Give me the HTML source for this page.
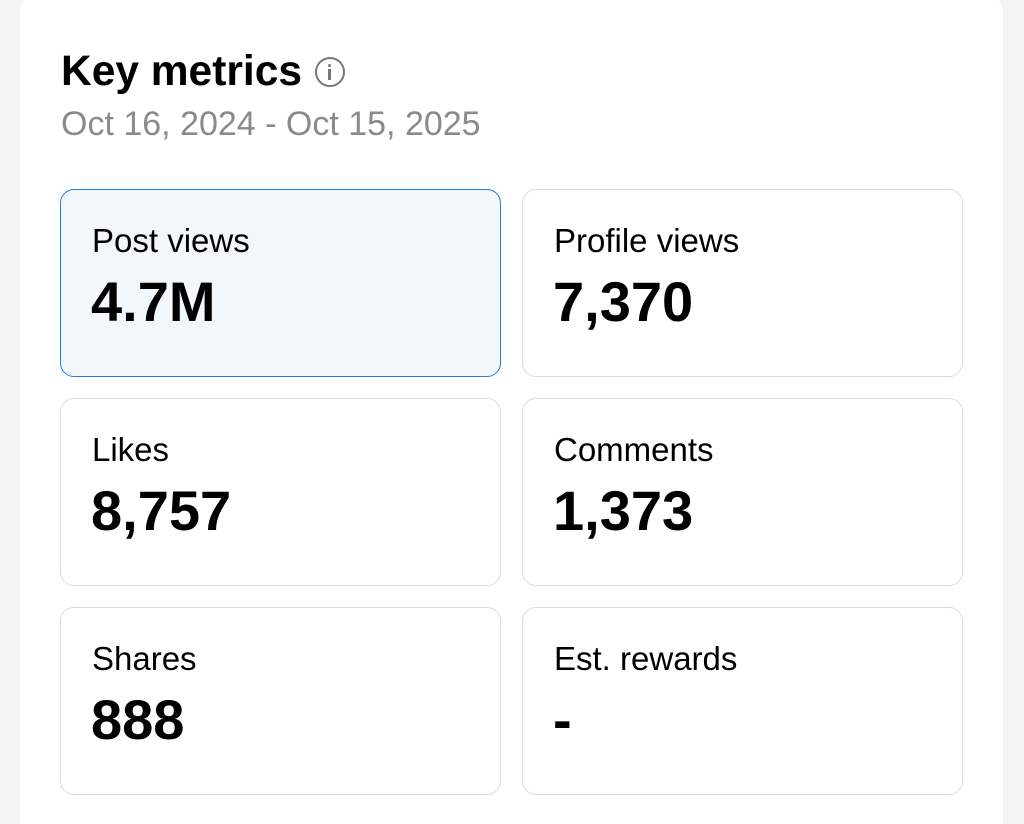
<!DOCTYPE html>
<html style="width:1024px;height:824px;overflow:hidden"><head><meta charset="utf-8"><style>
*{margin:0;padding:0;box-sizing:border-box}
body{width:1024px;height:824px;background:#f4f4f4;overflow:hidden;font-family:"Liberation Sans",Arial,sans-serif;position:relative}
.card{position:absolute;left:20px;top:-6px;width:983px;height:840px;background:#fff;border-radius:18px 18px 0 0}
.t{position:absolute;left:61px;top:47px;font-size:42.5px;font-weight:bold;color:#000;line-height:50px}
.info{position:absolute;left:315px;top:57px;width:30px;height:30px;border:2.5px solid #777;border-radius:50%}
.info:before{content:"";position:absolute;left:11px;top:5px;width:3px;height:3px;background:#777;border-radius:50%}
.info:after{content:"";position:absolute;left:11px;top:10px;width:3px;height:11px;background:#777}
.d{position:absolute;left:61px;top:104px;font-size:34px;color:#8a8a8a;line-height:40px}
.b{position:absolute;width:441px;height:188px;border:1.5px solid #dcdcdc;border-radius:14px;background:#fff}
.b.sel{border-color:#1f7fe0;background:#f2f7fc}
.l{position:absolute;left:31px;top:32px;font-size:33px;line-height:38px;color:#000}
.v{position:absolute;left:30px;top:81px;font-size:56px;font-weight:bold;line-height:62px;color:#000}
</style></head><body>
<div class="card"></div>
<div class="t">Key metrics</div>
<div class="info"></div>
<div class="d">Oct 16, 2024 - Oct 15, 2025</div>
<div class="b sel" style="left:60px;top:189px"><div class="l">Post views</div><div class="v">4.7M</div></div>
<div class="b" style="left:522px;top:189px"><div class="l">Profile views</div><div class="v">7,370</div></div>
<div class="b" style="left:60px;top:398px"><div class="l">Likes</div><div class="v">8,757</div></div>
<div class="b" style="left:522px;top:398px"><div class="l">Comments</div><div class="v">1,373</div></div>
<div class="b" style="left:60px;top:607px"><div class="l">Shares</div><div class="v">888</div></div>
<div class="b" style="left:522px;top:607px"><div class="l">Est. rewards</div><div class="v">-</div></div>
</body></html>
